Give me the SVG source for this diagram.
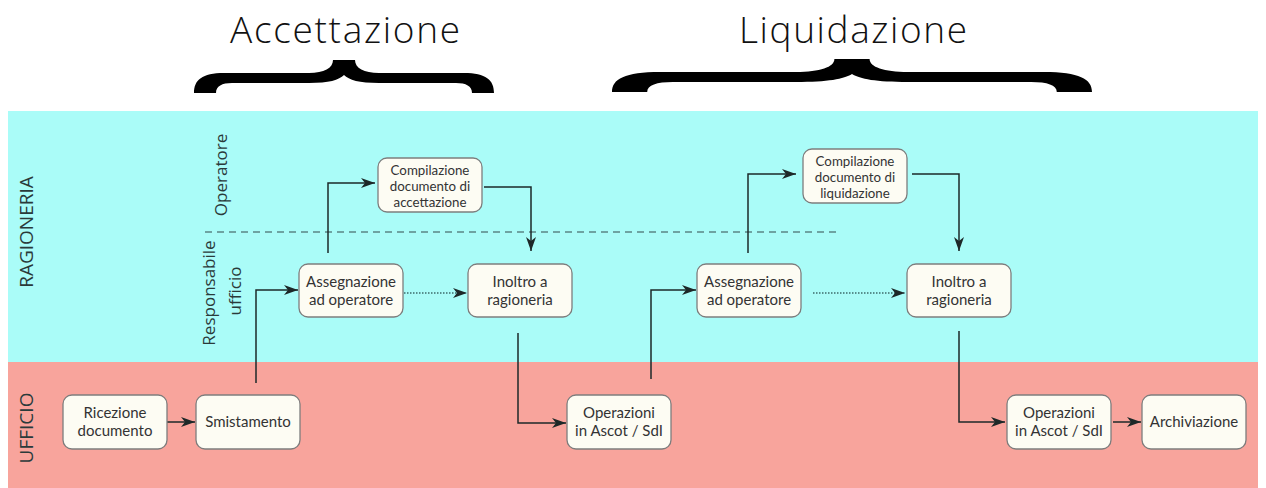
<svg xmlns="http://www.w3.org/2000/svg" width="1266" height="488" viewBox="0 0 1266 488">
<defs>
<style>
.box{fill:#FDFCF3;stroke:#7d7d7d;stroke-width:1.3}
.t{font-family:Lato,"Open Sans","DejaVu Sans",sans-serif;font-size:15px;fill:#333;text-anchor:middle}
.t3{font-family:Lato,"Open Sans","DejaVu Sans",sans-serif;font-size:13.3px;fill:#333;text-anchor:middle}
.h{font-family:"Open Sans","DejaVu Sans",sans-serif;font-size:37px;font-weight:300;fill:#111;text-anchor:middle}
.lane{font-family:"Open Sans","DejaVu Sans",sans-serif;font-size:19px;fill:#2a3a3a;text-anchor:middle}
.role{font-family:"Open Sans","DejaVu Sans",sans-serif;font-size:17px;fill:#2a3a3a;text-anchor:middle}
.c{fill:none;stroke:#1d2828;stroke-width:1.5;marker-end:url(#ah)}
.d{fill:none;stroke:#3d6b6b;stroke-width:1.5;stroke-dasharray:1.5 1.5;marker-end:url(#ah)}
</style>
<marker id="ah" viewBox="0 0 14 10" refX="14" refY="5" markerWidth="14" markerHeight="10" markerUnits="userSpaceOnUse" orient="auto">
<path d="M0,0 L14,5 L0,10 L4,5 Z" fill="#1d2828"/>
</marker>
<path id="brace" d="M139,0 L161,0 C161,8 170,13 185,13 L270,13 C292,13 300,20 300,33 L278,33 C278,26 272,23 262,23 L185,23 C165,23 155,20 150,15 C145,20 135,23 115,23 L38,23 C28,23 22,26 22,33 L0,33 C0,20 8,13 30,13 L115,13 C130,13 139,8 139,0 Z" fill="#000"/>
</defs>
<rect width="1266" height="488" fill="#fff"/>
<rect x="8" y="111" width="1250" height="251" fill="#AAFCF8"/>
<rect x="8" y="362" width="1250" height="126" fill="#F8A49C"/>
<text class="h" x="345" y="43" textLength="230" lengthAdjust="spacing">Accettazione</text>
<text class="h" x="853" y="43" textLength="228" lengthAdjust="spacing">Liquidazione</text>
<use href="#brace" transform="translate(194,60)"/>
<use href="#brace" transform="translate(612,59) scale(1.6,1)"/>
<text class="lane" transform="translate(33,232) rotate(-90)">RAGIONERIA</text>
<text class="lane" transform="translate(33,428) rotate(-90)">UFFICIO</text>
<text class="role" transform="translate(227,175) rotate(-90)">Operatore</text>
<text class="role" transform="translate(215,293) rotate(-90)">Responsabile</text>
<text class="role" transform="translate(241,291) rotate(-90)">ufficio</text>
<line x1="205" y1="232" x2="837" y2="232" stroke="#5b8585" stroke-width="1.3" stroke-dasharray="7 5"/>
<g id="connectors">
<path class="c" d="M167,422 H195"/>
<path class="c" d="M256,383 V290 H298"/>
<path class="c" d="M328,253 V183 H375"/>
<path class="c" d="M484,187 H531 V251"/>
<path class="d" d="M404,293 H467"/>
<path class="c" d="M518,333 V423 H566"/>
<path class="c" d="M651,379 V290 H696"/>
<path class="c" d="M748,253 V174 H796"/>
<path class="c" d="M912,174 H959 V251"/>
<path class="d" d="M813,293 H905"/>
<path class="c" d="M959,331 V422 H1005"/>
<path class="c" d="M1113,422 H1141"/>
</g>
<g id="ricezione"><rect class="box" x="63" y="395" width="104" height="54" rx="9"/><text class="t" x="115" y="418">Ricezione</text><text class="t" x="115" y="436">documento</text></g>
<g id="smistamento"><rect class="box" x="196" y="395" width="104" height="54" rx="9"/><text class="t" x="248" y="427">Smistamento</text></g>
<g id="assegnazione1"><rect class="box" x="299" y="264" width="104" height="53" rx="9"/><text class="t" x="351" y="287">Assegnazione</text><text class="t" x="351" y="305">ad operatore</text></g>
<g id="compilazione1"><rect class="box" x="378" y="158" width="104" height="54" rx="9"/><text class="t3" x="430" y="175">Compilazione</text><text class="t3" x="430" y="191">documento di</text><text class="t3" x="430" y="207">accettazione</text></g>
<g id="inoltro1"><rect class="box" x="468" y="264" width="104" height="53" rx="9"/><text class="t" x="520" y="287">Inoltro a</text><text class="t" x="520" y="305">ragioneria</text></g>
<g id="operazioni1"><rect class="box" x="567" y="395" width="104" height="54" rx="9"/><text class="t" x="619" y="418">Operazioni</text><text class="t" x="619" y="436">in Ascot / SdI</text></g>
<g id="assegnazione2"><rect class="box" x="697" y="264" width="104" height="53" rx="9"/><text class="t" x="749" y="287">Assegnazione</text><text class="t" x="749" y="305">ad operatore</text></g>
<g id="compilazione2"><rect class="box" x="803" y="149" width="104" height="54" rx="9"/><text class="t3" x="855" y="166">Compilazione</text><text class="t3" x="855" y="182">documento di</text><text class="t3" x="855" y="198">liquidazione</text></g>
<g id="inoltro2"><rect class="box" x="907" y="264" width="104" height="53" rx="9"/><text class="t" x="959" y="287">Inoltro a</text><text class="t" x="959" y="305">ragioneria</text></g>
<g id="operazioni2"><rect class="box" x="1007" y="395" width="104" height="54" rx="9"/><text class="t" x="1059" y="418">Operazioni</text><text class="t" x="1059" y="436">in Ascot / SdI</text></g>
<g id="archiviazione"><rect class="box" x="1142" y="395" width="104" height="54" rx="9"/><text class="t" x="1194" y="427">Archiviazione</text></g>
</svg>
